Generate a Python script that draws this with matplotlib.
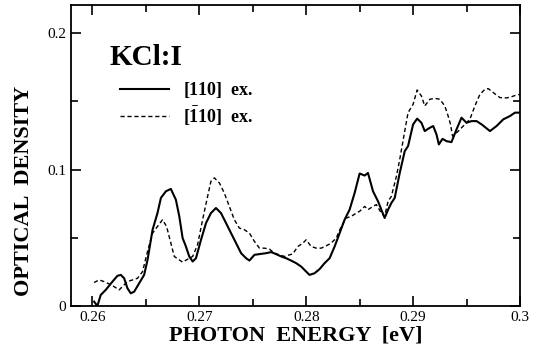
import matplotlib
matplotlib.use("Agg")
import matplotlib.pyplot as plt
from matplotlib.ticker import MultipleLocator

plt.rcParams['font.family'] = ['Liberation Serif', 'DejaVu Serif']
plt.rcParams['mathtext.fontset'] = 'custom'
plt.rcParams['mathtext.rm'] = 'Liberation Serif:bold'
plt.rcParams['mathtext.bf'] = 'Liberation Serif:bold'

# [110] ex. (solid)
energy_a = [0.26016, 0.26047, 0.26078, 0.26125, 0.26188, 0.26234, 0.26266, 0.26297, 0.26328, 0.26359,
            0.26391, 0.26438, 0.26484, 0.26516, 0.26563, 0.26609, 0.26641, 0.26688, 0.26734, 0.26781,
            0.26813, 0.26844, 0.26875, 0.26906, 0.26938, 0.26969, 0.27016, 0.27063, 0.27109, 0.27156,
            0.27203, 0.2725, 0.27297, 0.27344, 0.27391, 0.27438, 0.27469, 0.27516, 0.27578, 0.27625,
            0.27672, 0.27719, 0.27766, 0.27813, 0.27859, 0.27906, 0.27953, 0.28, 0.28031, 0.28078,
            0.28125, 0.28172, 0.28219, 0.28266, 0.28313, 0.28359, 0.28406, 0.28453, 0.285, 0.28547,
            0.28578, 0.28625, 0.28672, 0.28703, 0.28734, 0.28766, 0.28797, 0.28828, 0.28875, 0.28922,
            0.28953, 0.29, 0.29038, 0.29078, 0.29109, 0.29156, 0.29188, 0.29219, 0.29241, 0.29275,
            0.29313, 0.29359, 0.29406, 0.29453, 0.295, 0.29547, 0.29594, 0.29641, 0.29719, 0.29781,
            0.29844, 0.29906, 0.29953, 0.3]
od_a = [0.0032, 0.0, 0.0081, 0.0118, 0.0179, 0.0221, 0.0228, 0.0203, 0.013, 0.0093,
        0.0105, 0.0167, 0.0228, 0.0338, 0.0559, 0.0681, 0.0792, 0.0841, 0.0858, 0.0779,
        0.0657, 0.0498, 0.0436, 0.0363, 0.0326, 0.035, 0.0485, 0.0608, 0.0681, 0.0718,
        0.0681, 0.0608, 0.0534, 0.0461, 0.0387, 0.035, 0.0333, 0.0375, 0.0382, 0.0387,
        0.0395, 0.038, 0.0363, 0.035, 0.0333, 0.0314, 0.0289, 0.0252, 0.0228, 0.024,
        0.027, 0.0314, 0.035, 0.0436, 0.0534, 0.0632, 0.0706, 0.0828, 0.0971, 0.0956,
        0.0975, 0.0841, 0.0767, 0.0706, 0.0645, 0.0706, 0.0755, 0.0792, 0.0975, 0.1135,
        0.1172, 0.1331, 0.1373, 0.1343, 0.1282, 0.1306, 0.1319, 0.1257, 0.1184, 0.1225,
        0.1208, 0.1201, 0.1294, 0.138, 0.1343, 0.1355, 0.1355, 0.1331, 0.1282, 0.1319,
        0.1368, 0.1392, 0.1417, 0.1417]

# [-110] ex. (dashed)
energy_b = [0.26016, 0.26063, 0.26109, 0.26156, 0.26203, 0.2625, 0.26281, 0.26328, 0.26375, 0.26422,
            0.26469, 0.26516, 0.26563, 0.26609, 0.26656, 0.26694, 0.26734, 0.26766, 0.26813, 0.26844,
            0.26891, 0.26938, 0.26984, 0.27031, 0.27078, 0.27109, 0.27141, 0.27188, 0.27234, 0.27281,
            0.27328, 0.27375, 0.27422, 0.27469, 0.27516, 0.27563, 0.27609, 0.27656, 0.27703, 0.2775,
            0.27797, 0.27844, 0.27875, 0.27922, 0.27969, 0.28, 0.28047, 0.28094, 0.28141, 0.28188,
            0.28234, 0.28281, 0.28328, 0.28375, 0.28422, 0.28469, 0.285, 0.28547, 0.28578, 0.28625,
            0.28656, 0.28703, 0.28734, 0.28766, 0.28797, 0.28844, 0.28875, 0.28922, 0.28953, 0.29,
            0.29038, 0.29078, 0.29109, 0.29156, 0.29203, 0.2925, 0.29297, 0.29328, 0.2935, 0.29369,
            0.29391, 0.29438, 0.29484, 0.29531, 0.29578, 0.29625, 0.29672, 0.29703, 0.2975, 0.29813,
            0.29875, 0.29922, 0.29969, 0.3]
od_b = [0.0172, 0.0191, 0.0179, 0.0162, 0.0142, 0.0118, 0.0142, 0.0179, 0.0191, 0.0203,
        0.0252, 0.04, 0.0534, 0.0583, 0.0632, 0.0583, 0.0461, 0.0363, 0.0338, 0.0321,
        0.0343, 0.0363, 0.0449, 0.0632, 0.0804, 0.0914, 0.0939, 0.0902, 0.0828, 0.073,
        0.0632, 0.0571, 0.0559, 0.0534, 0.0473, 0.0424, 0.0424, 0.0417, 0.0387, 0.0375,
        0.0363, 0.0375, 0.0382, 0.0436, 0.0461, 0.0485, 0.0436, 0.0424, 0.0424, 0.0441,
        0.0461, 0.0498, 0.0583, 0.0645, 0.0657, 0.0681, 0.0694, 0.073, 0.0706, 0.073,
        0.0743, 0.0681, 0.0657, 0.0767, 0.0804, 0.0951, 0.1074, 0.1282, 0.1417, 0.1478,
        0.1583, 0.1539, 0.1466, 0.1515, 0.1522, 0.1515, 0.1466, 0.1392, 0.1331, 0.1245,
        0.1257, 0.1294, 0.1331, 0.1368, 0.1466, 0.1551, 0.1588, 0.1593, 0.1564, 0.1527,
        0.1525, 0.1534, 0.1547, 0.1551]

labels = [r'$\mathbf{[110]}$  ex.', r'$\mathbf{[\bar{1}10]}$  ex.']

fig = plt.figure(figsize=(5.42, 3.54), dpi=100)
ax = fig.add_axes([0.131, 0.1356, 0.8284, 0.8503])

ax.plot(energy_a, od_a, color='black', lw=1.5, label=labels[0])
ax.plot(energy_b, od_b, color='black', lw=1.0, ls=(0, (3, 2)), label=labels[1])

ax.set_xlim(0.258, 0.3)
ax.set_ylim(0, 0.2206)
ax.set_xticks([0.26, 0.27, 0.28, 0.29, 0.3])
ax.set_xticklabels(['0.26', '0.27', '0.28', '0.29', '0.3'])
ax.set_yticks([0, 0.1, 0.2])
ax.set_yticklabels(['0', '0.1', '0.2'])
ax.xaxis.set_minor_locator(MultipleLocator(0.005))
ax.yaxis.set_minor_locator(MultipleLocator(0.05))
ax.tick_params(which='both', direction='in', top=True, right=True, width=1.2, labelsize=11)
ax.tick_params(which='major', length=7)
ax.tick_params(which='minor', length=5)
for s in ax.spines.values():
    s.set_linewidth(1.3)

ax.set_xlabel('PHOTON  ENERGY  [eV]', fontsize=16, fontweight='bold', labelpad=1)
ax.set_ylabel('OPTICAL  DENSITY', fontsize=16, fontweight='bold')
ax.yaxis.set_label_coords(-0.083, 0.382)

ax.text(0.085, 0.80, 'KCl:I', transform=ax.transAxes, fontsize=21, fontweight='bold')

leg = ax.legend(loc='upper left', bbox_to_anchor=(0.109, 0.751), frameon=False,
                prop={'size': 13, 'weight': 'bold'}, handlelength=2.7, handletextpad=0.8,
                labelspacing=0.25, borderpad=0, borderaxespad=0)

fig.savefig('out.png', dpi=100)
